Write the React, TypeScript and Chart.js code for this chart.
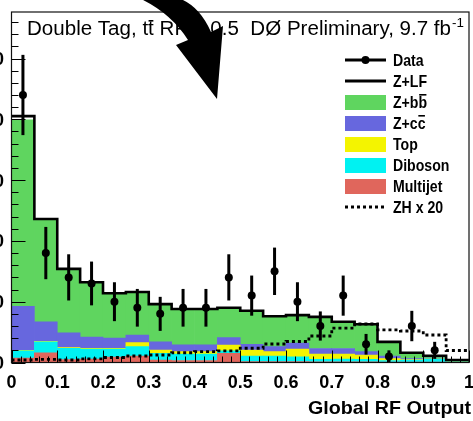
import React, { useEffect, useRef } from 'react';
import { Chart, registerables } from 'chart.js';

Chart.register(...registerables);

// Histogram binning of the Global RF output
const binEdges = [0, 0.05, 0.1, 0.15, 0.2, 0.25, 0.3, 0.35, 0.4, 0.45, 0.5, 0.55, 0.6, 0.65, 0.7, 0.75, 0.8, 0.85, 0.9, 0.95, 1];

// Expected background, events per bin (stacked from the bottom up)
const multijet = [0.74, 1.6, 0.5, 0.58, 0.9, 1.07, 0.41, 0.33, 0.33, 1.5, 0.15, 0.15, 0.15, 0.12, 0.12, 0.1, 0.05, 0.05, 0.05, 0.02];
const diboson = [1.2, 1.82, 1.84, 1.64, 1.32, 1.53, 1.09, 1.07, 1.07, 0.44, 0.92, 0.92, 0.8, 0.41, 0.46, 0.43, 0.28, 0.36, 0.5, 0.08];
const topQuark = [0.05, 0.08, 0.13, 0.12, 0.12, 0.66, 0.56, 0.38, 0.38, 0.94, 0.99, 0.71, 1.27, 0.87, 0.82, 0.7, 0.33, 0.09, 0.05, 0.05];
const zcc = [7.23, 3.2, 2.43, 1.86, 1.66, 1.24, 1.34, 1.12, 1.12, 1.22, 0.94, 0.82, 0.98, 0.9, 0.9, 0.57, 0.41, 0.16, 0.14, 0.1];
const zbb = [30.7, 16.75, 10.35, 8.85, 7.25, 6.95, 6.05, 5.75, 5.75, 4.75, 5.35, 4.85, 4.45, 5.05, 4.25, 4.35, 2.23, 0.84, 0.26, 0.1];
const zlf = [0.6, 0.15, 0.15, 0.15, 0.15, 0.15, 0.15, 0.15, 0.15, 0.15, 0.15, 0.15, 0.15, 0.15, 0.15, 0.15, 0.1, 0.1, 0.1, 0.05];

// ZH signal scaled by 20
const zh20 = [0.41, 0.5, 0.41, 0.58, 0.82, 1.07, 1.23, 1.6, 1.78, 1.9, 2.34, 3.04, 3.45, 4.36, 5.67, 6.33, 5.35, 5.18, 4.52, 1.97];

// Observed events and their uncertainties (empty bins are not drawn)
const dataCounts: (number | null)[] = [44, 18, 14, 13, 10, 9, 8, 9, 9, 14, 11, 15, 10, 6, 11, 3, 1, 6, 2, null];
const dataErrors = [6.6, 4.3, 3.8, 3.6, 3.2, 3.1, 2.8, 3.1, 3.1, 3.8, 3.3, 3.9, 3.2, 2.4, 3.3, 1.7, 1.0, 2.5, 1.4, 0];

// Axis ticks
const xTickValues = [0, 0.1, 0.2, 0.3, 0.4, 0.5, 0.6, 0.7, 0.8, 0.9, 1];
const xTickLabels = ['0', '0.1', '0.2', '0.3', '0.4', '0.5', '0.6', '0.7', '0.8', '0.9', '1'];
const yTickValues = [0, 10, 20, 30, 40, 50];
const yTickLabels = ['0', '10', '20', '30', '40', '50'];
const Y_MAX = 57.65;

const FONT = '"Liberation Sans", Arial, Helvetica, sans-serif';

const COLORS = {
  multijet: '#e0665c',
  diboson: '#00f2f2',
  top: '#f4f400',
  zcc: '#6767de',
  zbb: '#5fd55f',
  zlf: '#ffffff',
};

const centers = binEdges.slice(0, -1).map((e, i) => (e + binEdges[i + 1]) / 2);
const totals = multijet.map((_, i) => multijet[i] + diboson[i] + topQuark[i] + zcc[i] + zbb[i] + zlf[i]);

// Histogram outline: each bin contributes its left and right corner
const histPoints = (vals: number[]) =>
  vals.flatMap((v, i) => [{ x: binEdges[i], y: v }, { x: binEdges[i + 1], y: v }]);

type Run = { t: string; bar?: boolean };

function runsWidth(ctx: CanvasRenderingContext2D, runs: Run[]) {
  return runs.reduce((s, r) => s + ctx.measureText(r.t).width, 0);
}

// Draw text runs left to right, horizontally scaled by sx; runs with `bar` get an overline
function drawRuns(ctx: CanvasRenderingContext2D, runs: Run[], x: number, y: number, sx: number, barRise: number) {
  let cx = x;
  for (const r of runs) {
    const w = ctx.measureText(r.t).width * sx;
    ctx.save();
    ctx.translate(cx, y);
    ctx.scale(sx, 1);
    ctx.textAlign = 'left';
    ctx.fillText(r.t, 0, 0);
    ctx.restore();
    if (r.bar) ctx.fillRect(cx + w * 0.08, y - barRise, w * 0.84, 1.6);
    cx += w;
  }
  return cx - x;
}

type LegendEntry = { runs: Run[]; kind: 'data' | 'line' | 'box' | 'dash'; color?: string };
const legendEntries: LegendEntry[] = [
  { runs: [{ t: 'Data' }], kind: 'data' },
  { runs: [{ t: 'Z+LF' }], kind: 'line' },
  { runs: [{ t: 'Z+b' }, { t: 'b', bar: true }], kind: 'box', color: COLORS.zbb },
  { runs: [{ t: 'Z+c' }, { t: 'c', bar: true }], kind: 'box', color: COLORS.zcc },
  { runs: [{ t: 'Top' }], kind: 'box', color: COLORS.top },
  { runs: [{ t: 'Diboson' }], kind: 'box', color: COLORS.diboson },
  { runs: [{ t: 'Multijet' }], kind: 'box', color: COLORS.multijet },
  { runs: [{ t: 'ZH x 20' }], kind: 'dash' },
];

const decorations = {
  id: 'decorations',
  afterDatasetsDraw(chart: any) {
    const { ctx, scales } = chart;
    const x = scales.x;
    const y = scales.y;
    ctx.save();
    ctx.strokeStyle = '#000';
    ctx.lineWidth = 3;
    dataCounts.forEach((n, i) => {
      if (n == null) return;
      const px = x.getPixelForValue(centers[i]);
      ctx.beginPath();
      ctx.moveTo(px, y.getPixelForValue(Math.max(0, n - dataErrors[i])));
      ctx.lineTo(px, y.getPixelForValue(n + dataErrors[i]));
      ctx.stroke();
    });
    ctx.restore();
  },
  afterDraw(chart: any) {
    const { ctx, chartArea: a, scales } = chart;
    const x = scales.x;
    const y = scales.y;
    ctx.save();

    // frame
    ctx.strokeStyle = '#111';
    ctx.lineWidth = 1.2;
    ctx.strokeRect(a.left, a.top, a.right - a.left, a.bottom - a.top);

    // tick marks on the left axis (major every 10, minor every 2)
    ctx.lineWidth = 1;
    ctx.strokeStyle = '#000';
    for (let k = 0; 2 * k <= Y_MAX; k++) {
      const py = Math.round(y.getPixelForValue(2 * k)) + 0.5;
      const len = k % 5 === 0 ? 14 : 7;
      ctx.beginPath();
      ctx.moveTo(a.left, py);
      ctx.lineTo(a.left + len, py);
      ctx.stroke();
    }
    // tick marks on the bottom axis (major every 0.1, minor every 0.02)
    for (let k = 0; k <= 50; k++) {
      const px = Math.round(x.getPixelForValue(k * 0.02)) + 0.5;
      const len = k % 5 === 0 ? 12 : 6;
      ctx.beginPath();
      ctx.moveTo(px, a.bottom);
      ctx.lineTo(px, a.bottom - len);
      ctx.stroke();
    }

    // tick labels
    ctx.fillStyle = '#000';
    ctx.font = `bold 18px ${FONT}`;
    ctx.textBaseline = 'alphabetic';
    ctx.textAlign = 'center';
    xTickValues.forEach((v, i) => {
      ctx.fillText(xTickLabels[i], x.getPixelForValue(v), 388);
    });
    ctx.textAlign = 'right';
    yTickValues.forEach((v, i) => {
      ctx.fillText(yTickLabels[i], 4, y.getPixelForValue(v) + 6.5);
    });

    // axis title
    ctx.font = `bold 19px ${FONT}`;
    const axisTitle = 'Global RF Output';
    const atw = ctx.measureText(axisTitle).width;
    const asx = 163 / atw;
    drawRuns(ctx, [{ t: axisTitle }], 471 - atw * asx, 414, asx, 0);

    // plot title
    ctx.font = `20px ${FONT}`;
    const titleRuns: Run[] = [
      { t: 'Double Tag, t' },
      { t: 't', bar: true },
      { t: ' RF > 0.5  D\u00d8 Preliminary, 9.7 fb' },
    ];
    const tsx = 424 / runsWidth(ctx, titleRuns);
    const tw = drawRuns(ctx, titleRuns, 27, 35, tsx, 15);
    ctx.font = `13px ${FONT}`;
    drawRuns(ctx, [{ t: '-1' }], 27 + tw + 1, 27, tsx, 0);

    // legend
    const lx0 = 345;
    const lx1 = 386;
    const ltx = 393;
    ctx.font = `bold 17px ${FONT}`;
    legendEntries.forEach((e, i) => {
      const cy = 60 + i * 21;
      ctx.strokeStyle = '#000';
      ctx.fillStyle = '#000';
      if (e.kind === 'data' || e.kind === 'line') {
        ctx.lineWidth = 3;
        ctx.setLineDash([]);
        ctx.beginPath();
        ctx.moveTo(lx0, cy);
        ctx.lineTo(lx1, cy);
        ctx.stroke();
        if (e.kind === 'data') {
          ctx.beginPath();
          ctx.arc((lx0 + lx1) / 2, cy, 4, 0, Math.PI * 2);
          ctx.fill();
        }
      } else if (e.kind === 'dash') {
        ctx.lineWidth = 3;
        ctx.setLineDash([3, 3]);
        ctx.beginPath();
        ctx.moveTo(lx0, cy);
        ctx.lineTo(lx1, cy);
        ctx.stroke();
        ctx.setLineDash([]);
      } else {
        ctx.fillStyle = e.color;
        ctx.fillRect(lx0, cy - 7, lx1 - lx0, 15);
        ctx.fillStyle = '#000';
      }
      drawRuns(ctx, e.runs, ltx, cy + 6, 0.83, 14);
    });

    // curved arrow pointing into the plot
    ctx.fillStyle = '#000';
    ctx.beginPath();
    ctx.moveTo(139, -2);
    ctx.quadraticCurveTo(171, 13, 188, 40);
    ctx.lineTo(176, 45);
    ctx.lineTo(217, 99);
    ctx.lineTo(223, 26);
    ctx.lineTo(211, 32);
    ctx.quadraticCurveTo(199, 5, 178, -2);
    ctx.closePath();
    ctx.fill();

    ctx.restore();
  },
};

export default function App() {
  const ref = useRef<HTMLCanvasElement>(null);

  useEffect(() => {
    const canvas = ref.current;
    if (!canvas) return;

    const background = [
      { label: 'Multijet', data: multijet, color: COLORS.multijet },
      { label: 'Diboson', data: diboson, color: COLORS.diboson },
      { label: 'Top', data: topQuark, color: COLORS.top },
      { label: 'Z+cc', data: zcc, color: COLORS.zcc },
      { label: 'Z+bb', data: zbb, color: COLORS.zbb },
      { label: 'Z+LF', data: zlf, color: COLORS.zlf },
    ];

    const chart = new Chart(canvas, {
      type: 'bar',
      data: {
        datasets: [
          ...background.map((b) => ({
            type: 'bar' as const,
            label: b.label,
            data: b.data.map((v, i) => ({ x: centers[i], y: v })),
            backgroundColor: b.color,
            borderWidth: 0,
            barPercentage: 1,
            categoryPercentage: 1,
            stack: 'background',
            order: 3,
          })),
          {
            type: 'line' as const,
            label: 'Total',
            data: histPoints(totals),
            borderColor: '#000',
            borderWidth: 2.6,
            pointRadius: 0,
            tension: 0,
            fill: false,
            stack: 'total',
            order: 1,
          },
          {
            type: 'line' as const,
            label: 'ZH x 20',
            data: histPoints(zh20),
            borderColor: '#000',
            borderWidth: 2.8,
            borderDash: [3, 3],
            pointRadius: 0,
            tension: 0,
            fill: false,
            stack: 'signal',
            order: 2,
          },
          {
            type: 'line' as const,
            label: 'Data',
            data: dataCounts.map((v, i) => ({ x: centers[i], y: v })),
            showLine: false,
            pointRadius: 4,
            pointBackgroundColor: '#000',
            pointBorderWidth: 0,
            stack: 'data',
            order: 0,
          },
        ] as any,
      },
      options: {
        animation: false,
        responsive: false,
        maintainAspectRatio: false,
        devicePixelRatio: 1,
        layout: { padding: { left: 11.5, right: 3.5, top: 12, bottom: 58.5 } },
        plugins: {
          legend: { display: false },
          tooltip: { enabled: false },
          title: { display: false },
        },
        scales: {
          x: { type: 'linear', min: 0, max: 1, display: false, offset: false, ticks: { stepSize: 0.1 } },
          y: { type: 'linear', min: 0, max: Y_MAX, display: false, stacked: true },
        },
      } as any,
      plugins: [decorations],
    });

    return () => chart.destroy();
  }, []);

  return (
    <div style={{ position: 'fixed', left: 0, top: 0, width: 473, height: 421, background: '#fff' }}>
      <canvas ref={ref} width={473} height={421} style={{ display: 'block', width: 473, height: 421 }} />
    </div>
  );
}
